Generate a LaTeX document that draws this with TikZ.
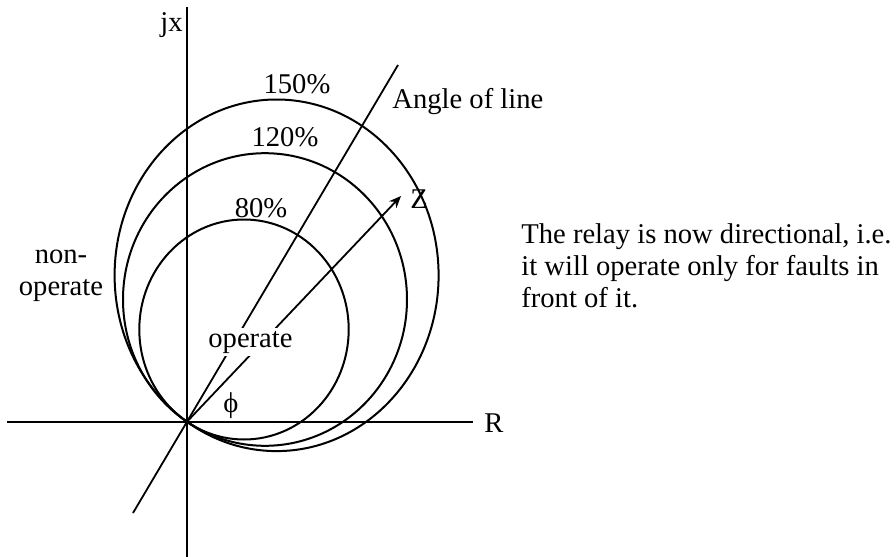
\documentclass[tikz,border=0pt]{standalone}
\usepackage{fontspec}
\setmainfont{Liberation Serif}
\usetikzlibrary{arrows.meta}
\begin{document}
\begin{tikzpicture}[x=0.5pt,y=-0.5pt,
  lbl/.style={inner sep=0pt,font=\fontsize{14.3}{16}\selectfont},
  axis/.style={line width=1.2pt},
  locus/.style={line width=1pt},
  ray/.style={line width=0.9pt}]
% 896 x 557 px, R-X plane of a mho relay
\useasboundingbox (0,0) rectangle (896,557);
\coordinate (O) at (187,421.7);
\coordinate (yT) at (187,7);
\coordinate (yB) at (187,557);
\coordinate (xL) at (7,421.7);
\coordinate (xR) at (473,421.7);
\draw[axis] (yT) -- (yB);
\draw[axis] (xL) -- (xR);
\node[lbl,anchor=base east] (jx) at (183,32) {jx};
\node[lbl,anchor=base west] (R) at (484,432) {R};
% circles, all through the origin
\draw[locus] (276.6,275.3) ellipse [x radius=162,y radius=175.8];
\draw[locus] (265,299.5) ellipse [x radius=142,y radius=146.3];
\draw[locus] (244,329.5) ellipse [x radius=104.7,y radius=110];
\node[lbl,anchor=base] (p150) at (297,93) {150\%};
\node[lbl,anchor=base] (p120) at (285,147) {120\%};
\node[lbl,anchor=base] (p80) at (261,217) {80\%};
% line angle and Z
\coordinate (aLo) at (133,513);
\coordinate (aHi) at (398,65);
\draw[ray] (aLo) -- (aHi);
\coordinate (zTip) at (401,196);
\draw[ray,-{Stealth[length=6pt,width=5pt]}] (O) -- (zTip);
\node[lbl,anchor=base west] (ang) at (392,108) {Angle of line};
\node[lbl,anchor=base west] (Z) at (410,208) {Z};
\node[lbl,fill=white,inner sep=1.5pt,anchor=base west] (op) at (205,347) {operate};
\node[lbl,anchor=base] (phi) at (231,412) {ϕ};
% last line sits on the given baseline
\node[lbl,align=center,anchor=base] (nonop) at (61,295) {non-\\operate};
\node[lbl,align=left,anchor=base west] (note) at (521,307) {The relay is now directional, i.e.\\it will operate only for faults in\\front of it.};
\end{tikzpicture}
\end{document}
